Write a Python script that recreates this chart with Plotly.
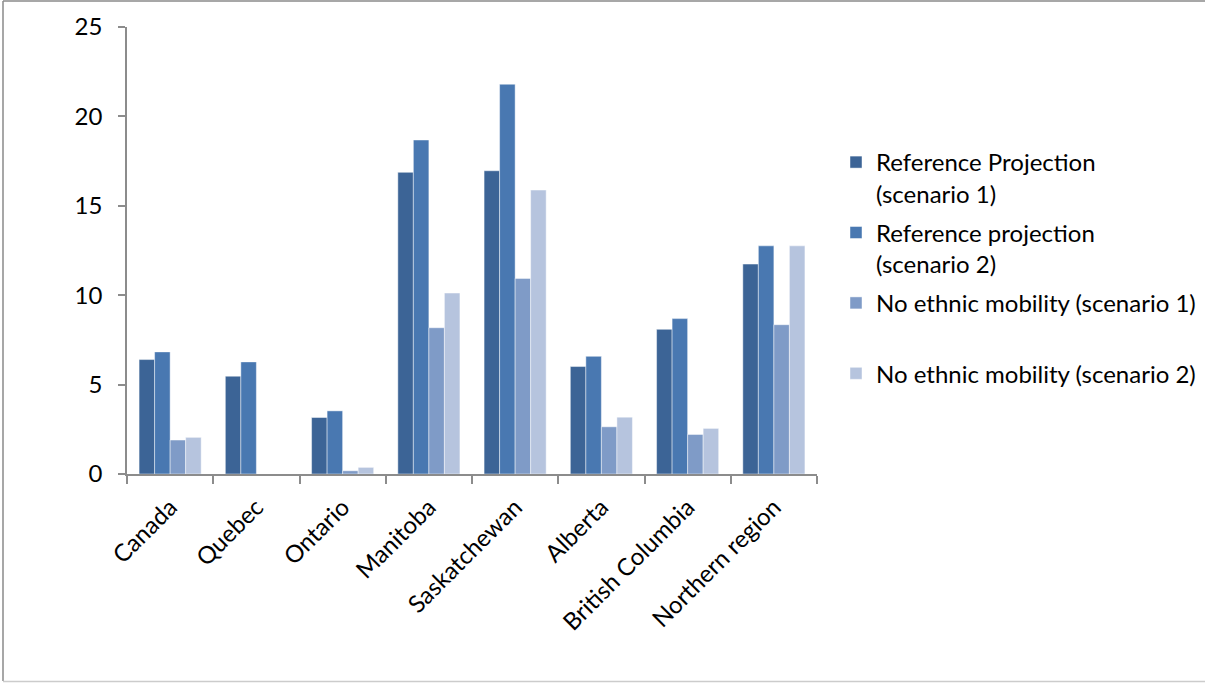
import plotly.graph_objects as go

categories = ["Canada", "Quebec", "Ontario", "Manitoba", "Saskatchewan",
              "Alberta", "British Columbia", "Northern region"]

series_names = [
    "Reference Projection<br>(scenario 1)",
    "Reference projection<br>(scenario 2)",
    "No ethnic mobility (scenario 1)<br> ",
    "No ethnic mobility (scenario 2)",
]

ref_s1 = [6.4, 5.47, 3.16, 16.87, 16.96, 6.01, 8.09, 11.74]
ref_s2 = [6.83, 6.27, 3.53, 18.68, 21.8, 6.58, 8.69, 12.76]
noeth_s1 = [1.9, None, 0.18, 8.18, 10.94, 2.64, 2.21, 8.35]
noeth_s2 = [2.05, None, 0.37, 10.12, 15.88, 3.18, 2.55, 12.76]

colors = ["#3C6496", "#4978B1", "#7F9BC7", "#B6C4DE"]

FONT = "Lato"
FS = 24
fig = go.Figure()
for i, (name, vals) in enumerate(zip(series_names, [ref_s1, ref_s2, noeth_s1, noeth_s2])):
    fig.add_trace(go.Bar(
        x=categories, y=vals, name=name, legendgroup=f"g{i}",
        marker=dict(color=colors[i], line=dict(color="rgba(255,255,255,0.45)", width=1)),
    ))

L, R, T, B = 127, 817, 27, 474
W, H = 1205, 683
pw, ph = R - L, B - T

def px_x(p):
    return (p - L) / pw

def px_y(p):
    return (B - p) / ph

shapes = [
    dict(type="line", xref="paper", yref="paper", x0=px_x(3), x1=px_x(3), y0=px_y(1), y1=px_y(681),
         line=dict(color="#8a8a8a", width=1.5)),
    dict(type="line", xref="paper", yref="paper", x0=px_x(3), x1=px_x(1205), y0=px_y(1), y1=px_y(1),
         line=dict(color="#8a8a8a", width=1.5)),
    dict(type="line", xref="paper", yref="paper", x0=px_x(3), x1=px_x(1205), y0=px_y(681.5), y1=px_y(681.5),
         line=dict(color="#cccccc", width=1.5)),
]

fig.update_layout(
    width=W, height=H,
    margin=dict(l=L, r=W - R, t=T, b=H - B, pad=0, autoexpand=False),
    paper_bgcolor="white", plot_bgcolor="white",
    font=dict(family=FONT, size=FS, color="black"),
    barmode="group", bargap=0.28, bargroupgap=0,
    showlegend=True,
    legend=dict(xref="container", yref="container", x=836 / W, xanchor="left",
                y=1 - 140 / H, yanchor="top",
                valign="top", traceorder="grouped", tracegroupgap=5,
                font=dict(family=FONT, size=FS, color="black"),
                bgcolor="rgba(0,0,0,0)"),
    xaxis=dict(type="category", tickangle=-45, showline=True, linecolor="#8c8c8c", linewidth=1.5,
               ticks="outside", tickson="boundaries", ticklen=8, tickcolor="#8c8c8c", tickwidth=1.5,
               ticklabelstandoff=8, automargin=False,
               showgrid=False, zeroline=False, tickfont=dict(family=FONT, size=FS)),
    yaxis=dict(range=[0, 25], dtick=5, showline=True, linecolor="#8c8c8c", linewidth=1.5,
               ticks="outside", ticklen=7, tickcolor="#8c8c8c", tickwidth=1.5,
               ticklabelstandoff=11, automargin=False,
               showgrid=False, zeroline=False, tickfont=dict(family=FONT, size=FS)),
    shapes=shapes,
)

fig.write_html("out.html", config={"displayModeBar": False},
               post_script="document.body.style.margin='0';document.body.style.overflow='hidden';")
